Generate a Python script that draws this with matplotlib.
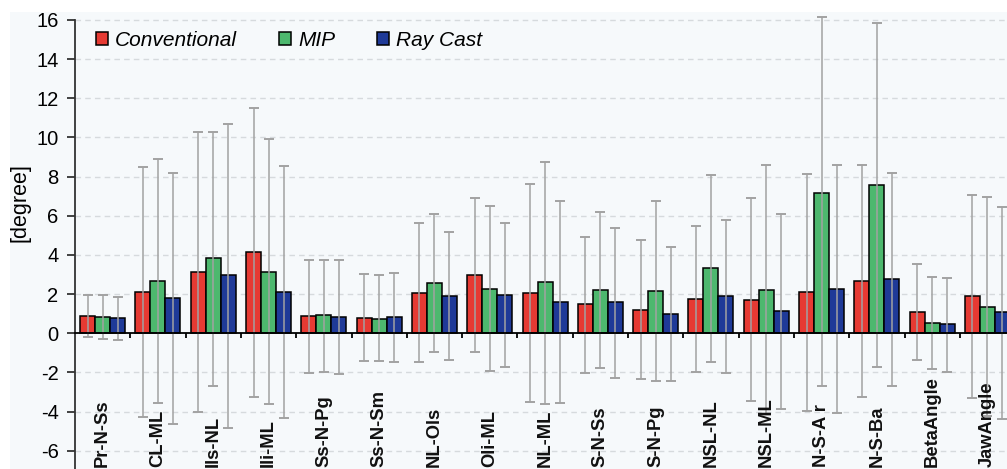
import numpy as np
import matplotlib
matplotlib.use("Agg")
import matplotlib.pyplot as plt
from matplotlib.patches import Rectangle

plt.rcParams["font.family"] = ["Liberation Sans", "DejaVu Sans"]
plt.rcParams["axes.unicode_minus"] = False

categories = ["Pr-N-Ss", "CL-ML", "Ils-NL", "Ili-ML", "Ss-N-Pg", "Ss-N-Sm", "NL-Ols",
              "Oli-ML", "NL-ML", "S-N-Ss", "S-N-Pg", "NSL-NL", "NSL-ML", "N-S-A r",
              "N-S-Ba", "BetaAngle", "JawAngle"]

# bar heights and the upper / lower ends of each error bar
conv_mean = [0.90, 2.10, 3.15, 4.15, 0.88, 0.78, 2.08, 2.96, 2.08, 1.48, 1.21, 1.75, 1.70, 2.09, 2.67, 1.11, 1.89]
conv_hi   = [1.97, 8.51, 10.26, 11.52, 3.74, 3.03, 5.65, 6.89, 7.61, 4.92, 4.78, 5.45, 6.88, 8.15, 8.58, 3.54, 7.05]
conv_lo   = [-0.20, -4.29, -4.02, -3.23, -2.01, -1.41, -1.48, -0.95, -3.49, -2.04, -2.35, -1.96, -3.46, -3.95, -3.27, -1.36, -3.29]

mip_mean = [0.82, 2.69, 3.83, 3.15, 0.92, 0.75, 2.59, 2.28, 2.62, 2.21, 2.16, 3.32, 2.21, 7.18, 7.57, 0.54, 1.36]
mip_hi   = [1.94, 8.90, 10.26, 9.92, 3.74, 2.96, 6.09, 6.50, 8.75, 6.20, 6.74, 8.09, 8.61, 16.17, 15.86, 2.86, 6.94]
mip_lo   = [-0.31, -3.57, -2.67, -3.63, -1.96, -1.41, -0.94, -1.94, -3.61, -1.77, -2.42, -1.46, -4.19, -2.69, -1.70, -1.82, -4.22]

ray_mean = [0.77, 1.80, 2.96, 2.09, 0.82, 0.82, 1.92, 1.97, 1.62, 1.58, 1.00, 1.92, 1.14, 2.28, 2.77, 0.48, 1.07]
ray_hi   = [1.86, 8.17, 10.67, 8.56, 3.74, 3.06, 5.17, 5.65, 6.76, 5.38, 4.41, 5.80, 6.09, 8.60, 8.20, 2.83, 6.47]
ray_lo   = [-0.37, -4.65, -4.82, -4.34, -2.09, -1.48, -1.36, -1.72, -3.54, -2.28, -2.43, -2.01, -3.88, -4.05, -2.67, -1.96, -4.36]

series = [
    ("Conventional", conv_mean, conv_hi, conv_lo, "#E63A33"),
    ("MIP",          mip_mean,  mip_hi,  mip_lo,  "#4DB86E"),
    ("Ray Cast",     ray_mean,  ray_hi,  ray_lo,  "#1F3A98"),
]

BG = "#F6F9FB"
BAR_W = 0.271

fig = plt.figure(figsize=(10.07, 4.69), dpi=100)
bg = Rectangle((10 / 1007, 0), 1, 1 - 12 / 469, transform=fig.transFigure,
               facecolor=BG, edgecolor="none", zorder=-10)
fig.patches.append(bg)
ax = fig.add_axes([75 / 1007, 0, 1 - 75 / 1007, 1 - 12 / 469])
ax.set_zorder(1)
ax.patch.set_alpha(0)

x = np.arange(len(categories))
for k, (name, mean, hi, lo, color) in enumerate(series):
    mean = np.array(mean)
    pos = x + (k - 1) * BAR_W
    ax.bar(pos, mean, BAR_W, color=color, edgecolor="black", linewidth=1.1,
           label=name, zorder=3)
    yerr = [mean - np.array(lo), np.array(hi) - mean]
    ax.errorbar(pos, mean, yerr=yerr, fmt="none", ecolor="#A2A2A2", elinewidth=1.1,
                capsize=3.3, capthick=1.4, zorder=4)

for i, name in enumerate(categories):
    ax.text(i, -6.84, name, rotation=90, ha="center", va="bottom",
            fontsize=13.2, fontweight="bold", color="#111111", zorder=5)

ax.set_xlim(-0.5, 16.353)
ax.set_ylim(-6.93, 16.4)

ax.set_yticks(np.arange(-6, 17, 2))
for yv in np.arange(-6, 17, 2):
    if yv != 0:
        ax.axhline(yv, color="#D6DADD", linewidth=1.0, linestyle=(0, (4, 3)), zorder=1)

ax.spines["top"].set_visible(False)
ax.spines["right"].set_visible(False)
ax.spines["left"].set_bounds(-6.93, 16)
ax.spines["left"].set_color("#333333")
ax.spines["left"].set_linewidth(1.3)
ax.spines["bottom"].set_position(("data", 0))
ax.spines["bottom"].set_linewidth(1.3)
ax.spines["bottom"].set_zorder(6)

ax.set_xticks(np.arange(0.5, 16, 1))
ax.tick_params(axis="x", direction="out", length=3.8, width=1.3, labelbottom=False)
ax.tick_params(axis="y", direction="out", length=5.8, width=1.3, color="#333333",
               labelsize=14.5, pad=6)

fig.text(20 / 1007, 1 - 203 / 469, "[degree]", rotation=90, ha="center", va="center",
         fontsize=15.5, zorder=2)

ax.legend(loc="upper left", bbox_to_anchor=(0.022, 0.958), ncol=3, frameon=False,
          prop={"style": "italic", "size": 15}, handlelength=0.58, handleheight=0.58,
          handletextpad=0.35, columnspacing=2.0, borderpad=0, borderaxespad=0)

fig.savefig("out.png", dpi=100, facecolor="white")
